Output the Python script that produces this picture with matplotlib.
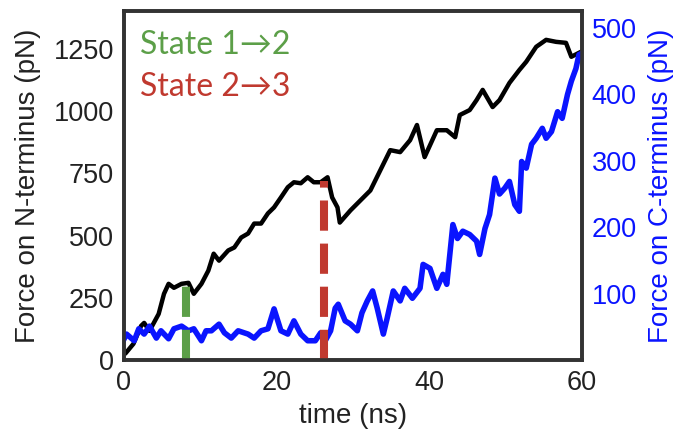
import numpy as np
import matplotlib
matplotlib.use("Agg")
import matplotlib.pyplot as plt

plt.rcParams['font.family'] = ['Liberation Sans', 'DejaVu Sans']

# force on N-terminus (left axis)
t_n = [0, 0.3, 1.3, 2.3, 2.7, 3.4, 4.6, 5.3, 5.9, 6.6,
       7.6, 8.5, 9.2, 10.2, 11.1, 11.8, 12.5, 13.7, 14.5, 15.4,
       16.3, 17.1, 18.0, 18.9, 19.7, 20.6, 21.5, 22.3, 23.2, 24.1,
       24.9, 25.8, 26.7, 27.3, 28.0, 28.3, 29.7, 31.0, 32.3, 33.6,
       34.9, 36.2, 37.5, 38.4, 39.4, 41.0, 42.3, 43.4, 44.0, 45.3,
       46.2, 47.0, 48.3, 49.2, 50.5, 51.8, 52.7, 54.0, 55.3, 56.6,
       57.9, 58.6, 59.6, 60]
f_n = [20, 28, 65, 137, 149, 117, 185, 266, 306, 290,
       306, 310, 266, 306, 359, 427, 399, 440, 452, 492,
       508, 548, 548, 589, 613, 653, 694, 714, 710, 734,
       714, 714, 734, 653, 613, 552, 601, 641, 681, 762,
       843, 835, 883, 944, 815, 923, 923, 895, 984, 1004,
       1044, 1085, 1016, 1044, 1113, 1165, 1198, 1258, 1286, 1278,
       1274, 1218, 1234, 1240]

# force on C-terminus (right axis)
t_c = [0, 0.4, 1.4, 2.0, 2.7, 3.4, 4.3, 4.9, 5.9, 6.6,
       7.6, 8.5, 9.2, 10.2, 10.8, 11.5, 12.5, 13.2, 14.1, 15.0,
       16.3, 17.1, 18.0, 18.9, 19.7, 20.6, 21.5, 22.3, 23.2, 24.1,
       25.1, 25.8, 26.4, 27.1, 27.7, 28.1, 29.0, 29.7, 30.6, 31.2,
       31.9, 32.6, 33.2, 34.0, 34.5, 35.3, 36.2, 36.8, 37.8, 38.8,
       39.2, 40.1, 41.0, 41.8, 42.3, 43.1, 43.7, 44.4, 45.3, 46.2,
       46.6, 47.3, 47.9, 48.6, 49.2, 49.9, 50.5, 51.2, 51.8, 52.1,
       52.7, 53.4, 54.0, 54.8, 55.3, 56.0, 56.8, 57.4, 58.1, 58.6,
       59.2, 59.6, 60]
f_c = [30, 39, 29, 47, 39, 51, 33, 44, 32, 47,
       51, 44, 47, 29, 44, 44, 54, 41, 33, 44,
       39, 33, 44, 47, 77, 44, 39, 59, 39, 29,
       29, 41, 29, 44, 78, 84, 59, 54, 44, 71,
       89, 104, 78, 39, 63, 104, 89, 108, 93, 108,
       144, 138, 108, 129, 114, 204, 183, 194, 189, 179,
       159, 198, 219, 274, 250, 259, 269, 234, 224, 299,
       289, 325, 334, 349, 334, 344, 374, 364, 400, 420,
       439, 460, 462]

# state transitions: time (ns), height on left axis (pN)
trans_t = [8.15, 26.3]
trans_top = [298, 720]
trans_lbl = ['State 1\u21922', 'State 2\u21923']
trans_col = ['#5c9f48', '#c0392f']

blue = '#0a14ff'
fs = 19.5

fig = plt.figure(figsize=(6.76, 4.33), dpi=100)
ax = fig.add_axes([0.1827, 0.1686, 0.6783, 0.8049])
ax2 = ax.twinx()

ax.plot(t_n, f_n, color='black', lw=3.2, solid_joinstyle='round')
ax2.plot(t_c, f_c, color=blue, lw=4.0, solid_joinstyle='round')

for x, top, c in zip(trans_t, trans_top, trans_col):
    ax2.plot([x, x], [0, top], color=c, lw=5.8, dashes=(3.75, 1.6),
             solid_capstyle='butt', dash_capstyle='butt',
             transform=ax.transData)

ax.set_xlim(0, 60)
ax.set_ylim(0, 1400)
ax2.set_ylim(0, 525)
ax.set_xticks([0, 20, 40, 60])
ax.set_yticks([0, 250, 500, 750, 1000, 1250])
ax2.set_yticks([100, 200, 300, 400, 500])

ax.tick_params(length=0, labelsize=fs, pad=7, colors='#222222')
ax2.tick_params(length=0, labelsize=fs, pad=7, colors=blue)

ax.set_xlabel('time (ns)', fontsize=fs + 0.5, color='#222222', labelpad=5)
ax.set_ylabel('Force on N-terminus (pN)', fontsize=fs + 0.5, color='#222222', labelpad=9)
ax2.set_ylabel('Force on C-terminus (pN)', fontsize=fs + 0.5, color=blue, labelpad=8)

for a in (ax, ax2):
    for s in a.spines.values():
        s.set_linewidth(2.6)
        s.set_color('#333333')

for i, (lbl, c) in enumerate(zip(trans_lbl, trans_col)):
    ax.text(0.036, 0.946 - i * 0.12, lbl, transform=ax.transAxes, color=c,
            fontsize=23, va='top', ha='left', family=['Lato', 'DejaVu Sans'])

fig.savefig('out.png', dpi=100)
